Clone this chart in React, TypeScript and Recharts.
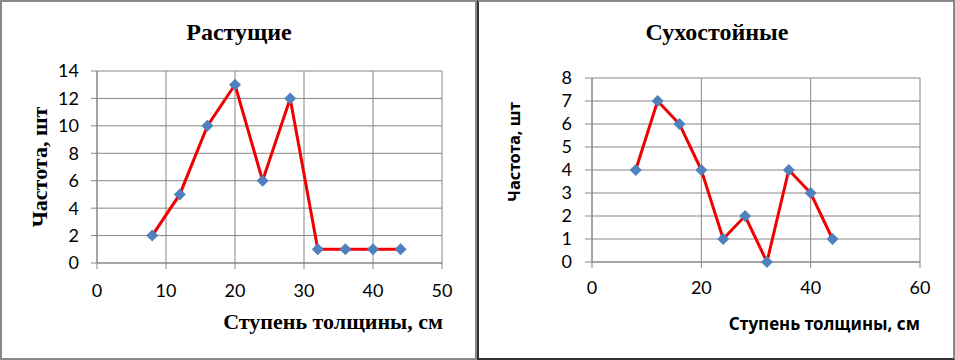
import { LineChart, Line, XAxis, YAxis, CartesianGrid } from 'recharts'

// thickness classes (cm)
const DIAMETERS = [8, 12, 16, 20, 24, 28, 32, 36, 40, 44]
// counts per class
const GROWING = [2, 5, 10, 13, 6, 12, 1, 1, 1, 1]
const DEAD = [4, 7, 6, 4, 1, 2, 0, 4, 3, 1]

const GROW_X_TICKS = [0, 10, 20, 30, 40, 50]
const GROW_Y_TICKS = [0, 2, 4, 6, 8, 10, 12, 14]
const DEAD_X_TICKS = [0, 20, 40, 60]
const DEAD_Y_TICKS = [0, 1, 2, 3, 4, 5, 6, 7, 8]

const growData = DIAMETERS.map((d, i) => ({ d, n: GROWING[i] }))
const deadData = DIAMETERS.map((d, i) => ({ d, n: DEAD[i] }))

const GRID = '#868686'
const SERIF = '"Liberation Serif", "Times New Roman", serif'
const SANS = '"Noto Sans", "Open Sans", sans-serif'
const TICK_FONT = 'Lato, "Noto Sans", sans-serif'

const Diamond = (props: any) => {
  const { cx, cy } = props
  if (cx == null || cy == null) return null
  const r = 6
  return (
    <path
      key={props.index}
      d={`M${cx},${cy - r}L${cx + r},${cy}L${cx},${cy + r}L${cx - r},${cy}Z`}
      fill="#4F81BD"
    />
  )
}

const tick = { fontSize: 18, fill: '#000', fontFamily: TICK_FONT }

function Text({ x, y, children, style }: any) {
  return (
    <div
      style={{
        position: 'absolute',
        left: x,
        top: y,
        transform: 'translate(-50%, -50%)',
        whiteSpace: 'nowrap',
        lineHeight: 1,
        ...style,
      }}
    >
      {children}
    </div>
  )
}

function RightText({ right, y, children, style }: any) {
  return (
    <div
      style={{
        position: 'absolute',
        right,
        top: y,
        transform: 'translateY(-50%)',
        whiteSpace: 'nowrap',
        lineHeight: 1,
        ...style,
      }}
    >
      {children}
    </div>
  )
}

export default function App() {
  return (
    <div
      style={{
        position: 'fixed',
        left: 0,
        top: 0,
        width: 955,
        height: 360,
        background: '#fff',
        overflow: 'hidden',
      }}
    >
      {/* left panel */}
      <div
        style={{
          position: 'absolute',
          left: 0,
          top: 0,
          width: 477,
          height: 360,
          boxSizing: 'border-box',
          border: '2px solid #888',
        }}
      />
      {/* right panel */}
      <div
        style={{
          position: 'absolute',
          left: 477,
          top: 0,
          width: 478,
          height: 360,
          boxSizing: 'border-box',
          borderTop: '2px solid #888',
          borderRight: '2px solid #888',
          borderLeft: '2px solid #333',
          borderBottom: '2px solid #333',
        }}
      />

      <div style={{ position: 'absolute', left: 0, top: 0 }}>
        <LineChart
          width={477}
          height={360}
          data={growData}
          margin={{ top: 71, right: 35, bottom: 67, left: 0 }}
        >
          <CartesianGrid stroke={GRID} strokeWidth={1} />
          <XAxis
            dataKey="d"
            type="number"
            domain={[0, 50]}
            ticks={GROW_X_TICKS}
            interval={0}
            height={30}
            tick={tick}
            tickSize={6}
            tickMargin={15}
            stroke={GRID}
            tickLine={{ stroke: GRID }}
          />
          <YAxis
            type="number"
            domain={[0, 14]}
            ticks={GROW_Y_TICKS}
            interval={0}
            width={97}
            tick={tick}
            tickSize={6}
            tickMargin={12}
            stroke={GRID}
            tickLine={{ stroke: GRID }}
          />
          <Line
            dataKey="n"
            type="linear"
            stroke="#F00000"
            strokeWidth={3}
            dot={Diamond}
            activeDot={false}
            isAnimationActive={false}
          />
        </LineChart>
      </div>

      <div style={{ position: 'absolute', left: 476, top: 0 }}>
        <LineChart
          width={479}
          height={360}
          data={deadData}
          margin={{ top: 78, right: 35, bottom: 68, left: 0 }}
        >
          <CartesianGrid stroke={GRID} strokeWidth={1} />
          <XAxis
            dataKey="d"
            type="number"
            domain={[0, 60]}
            ticks={DEAD_X_TICKS}
            interval={0}
            height={30}
            tick={tick}
            tickSize={6}
            tickMargin={13}
            stroke={GRID}
            tickLine={{ stroke: GRID }}
          />
          <YAxis
            type="number"
            domain={[0, 8]}
            ticks={DEAD_Y_TICKS}
            interval={0}
            width={116}
            tick={tick}
            tickSize={7}
            tickMargin={13}
            stroke={GRID}
            tickLine={{ stroke: GRID }}
          />
          <Line
            dataKey="n"
            type="linear"
            stroke="#F00000"
            strokeWidth={3}
            dot={Diamond}
            activeDot={false}
            isAnimationActive={false}
          />
        </LineChart>
      </div>

      {/* left texts */}
      <Text x={239} y={32} style={{ fontFamily: SERIF, fontWeight: 'bold', fontSize: 24 }}>
        Растущие
      </Text>
      <RightText right={955 - 443} y={322} style={{ fontFamily: SERIF, fontWeight: 'bold', fontSize: 22 }}>
        Ступень толщины, см
      </RightText>
      <Text
        x={40}
        y={167}
        style={{
          fontFamily: SERIF,
          fontWeight: 'bold',
          fontSize: 22,
          transform: 'translate(-50%, -50%) rotate(-90deg)',
        }}
      >
        Частота, шт
      </Text>

      {/* right texts */}
      <Text x={717} y={32} style={{ fontFamily: SERIF, fontWeight: 'bold', fontSize: 24 }}>
        Сухостойные
      </Text>
      <RightText right={955 - 920} y={323} style={{ fontFamily: SANS, fontWeight: 'bold', fontSize: 17 }}>
        Ступень толщины, см
      </RightText>
      <Text
        x={514}
        y={152}
        style={{
          fontFamily: SANS,
          fontWeight: 'bold',
          fontSize: 16.5,
          transform: 'translate(-50%, -50%) rotate(-90deg)',
        }}
      >
        Частота, шт
      </Text>
    </div>
  )
}
